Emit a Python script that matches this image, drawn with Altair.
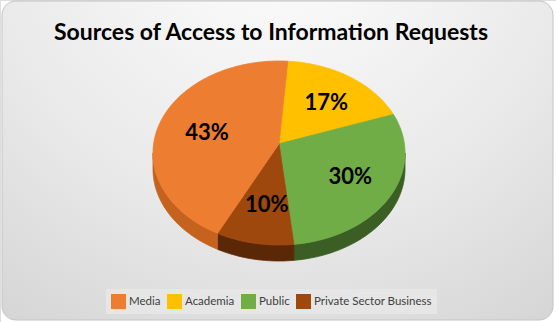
import numpy as np
import pandas as pd
import altair as alt

# ---- data ----
categories = ["Media", "Academia", "Public", "Private Sector Business"]
shares = [43, 17, 30, 10]
pct_labels = ["43%", "17%", "30%", "10%"]
clockwise_order = ["Academia", "Public", "Private Sector Business", "Media"]
title_text = "Sources of Access to Information Requests"

# ---- style ----
colors = ["#ED7D31", "#FFC000", "#70AD47", "#9E480E"]
side_colors = ["#C4621E", "#B38600", "#3B5E24", "#5A2807"]
START_DEG = 4.0
CX, CY, RX, RY = 279, 153, 126, 92
DEPTH = 16
HUB_UY = 0.1
LABEL_F = 0.62

d = DEPTH / RY
top_rows, side_rows, label_rows = [], [], []
a = START_DEG
for cat in clockwise_order:
    k = categories.index(cat)
    span = shares[k] / 100.0 * 360.0
    a1, a2 = a, a + span
    angs = np.linspace(a1, a2, max(int(span / 1.5), 2) + 1)
    pts = [(0.0, HUB_UY)] + [(np.sin(np.radians(t)), np.cos(np.radians(t))) for t in angs] + [(0.0, HUB_UY)]
    for i, (ux, uy) in enumerate(pts):
        top_rows.append({"cat": cat, "ux": ux, "uy": uy, "i": i})
    lo, hi = max(a1, 90.0), min(a2, 270.0)
    if lo < hi:
        sa = np.linspace(lo, hi, max(int((hi - lo) / 1.5), 2) + 1)
        arc = [(np.sin(np.radians(t)), np.cos(np.radians(t))) for t in sa]
        poly = arc + [(x, y - d) for x, y in arc[::-1]] + [arc[0]]
        for i, (ux, uy) in enumerate(poly):
            side_rows.append({"cat": cat, "ux": ux, "uy": uy, "i": i})
    mid = np.radians((a1 + a2) / 2)
    ex, ey = np.sin(mid), np.cos(mid)
    label_rows.append({"cat": cat, "lbl": pct_labels[k],
                       "ux": LABEL_F * ex, "uy": HUB_UY + LABEL_F * (ey - HUB_UY)})
    a = a2

top_df = pd.DataFrame(top_rows)
side_df = pd.DataFrame(side_rows)
label_df = pd.DataFrame(label_rows)

xs = alt.Scale(domain=[-1, 1], range=[CX - RX, CX + RX], nice=False, zero=False)
ys = alt.Scale(domain=[-1, 1], range=[CY + RY, CY - RY], nice=False, zero=False)
X = alt.X("ux:Q", scale=xs, axis=None)
Y = alt.Y("uy:Q", scale=ys, axis=None)

bg = alt.Chart(pd.DataFrame({"a": [0]})).mark_rect(
    cornerRadius=14, stroke="#c4c4c4", strokeWidth=1,
    fill={"gradient": "radial",
          "stops": [{"offset": 0, "color": "#ffffff"},
                    {"offset": 0.55, "color": "#e9e9e9"},
                    {"offset": 1, "color": "#cfcfcf"}],
          "x1": 0.5, "y1": 0.05, "r1": 0, "x2": 0.5, "y2": 0.05, "r2": 1.0},
).encode(x=alt.value(2), x2=alt.value(553), y=alt.value(1), y2=alt.value(320))

side_scale = alt.Scale(domain=categories, range=side_colors)
sides = alt.Chart(side_df).mark_line(strokeWidth=0.8, strokeJoin="round").encode(
    x=X, y=Y, detail="cat:N", order="i:Q",
    fill=alt.Fill("cat:N", scale=side_scale, legend=None),
    stroke=alt.Stroke("cat:N", scale=side_scale, legend=None),
)

main_scale = alt.Scale(domain=categories, range=colors)
tops = alt.Chart(top_df).mark_line(strokeWidth=0.8, strokeJoin="round").encode(
    x=X, y=Y, detail="cat:N", order="i:Q",
    fill=alt.Fill("cat:N", scale=main_scale, sort=categories,
                  legend=alt.Legend(title=None, orient="none", legendX=106, legendY=289,
                                    direction="horizontal", columns=4,
                                    symbolType="square", symbolSize=225,
                                    symbolStrokeWidth=0, labelFont="Lato",
                                    labelFontSize=11.5, labelColor="#404040",
                                    fillColor="#e6e6e6", padding=5,
                                    columnPadding=6, labelOffset=3)),
    stroke=alt.Stroke("cat:N", scale=main_scale, legend=None),
)

labels = alt.Chart(label_df).mark_text(
    font="Lato", fontSize=22, fontWeight="bold", color="black", dx=3
).encode(x=X, y=Y, text="lbl:N")

title = alt.Chart(pd.DataFrame({"t": [title_text]})).mark_text(
    font="Lato", fontSize=23, fontWeight="bold", color="black",
    align="center", baseline="middle"
).encode(x=alt.value(271), y=alt.value(33), text="t:N")

chart = alt.layer(bg, sides, tops, labels, title).resolve_scale(
    fill="independent", stroke="independent"
).properties(
    width=556, height=322, padding=0,
    autosize=alt.AutoSizeParams(type="none"),
).configure_view(strokeWidth=0).configure(background="white")

chart.save("out.html", embed_options={"renderer": "svg", "actions": False})
